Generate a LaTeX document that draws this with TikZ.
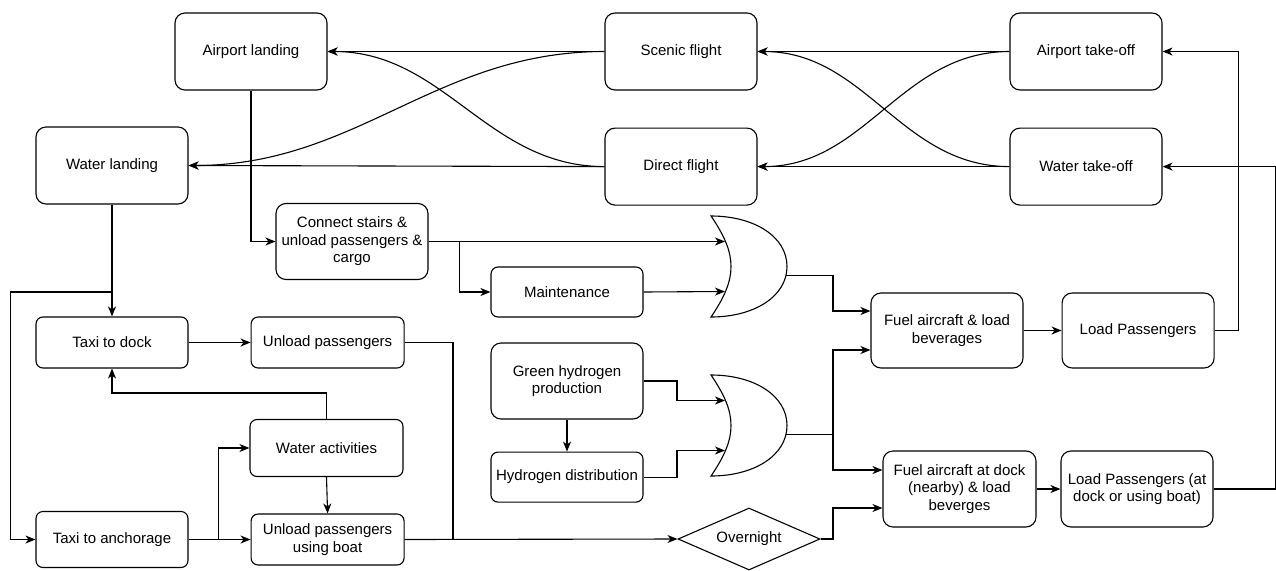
\documentclass[tikz,border=0pt]{standalone}
\usepackage{fontspec}
\setmainfont{Liberation Sans}
\usetikzlibrary{arrows.meta,positioning,shapes.geometric}

\begin{document}
\begin{tikzpicture}[x=1pt,y=-1pt,line width=1.1pt,
  box/.style={draw,rounded corners=10pt,fill=white,minimum width=152pt,
    minimum height=77pt,align=center,inner sep=2pt,
    font=\fontsize{15}{17.6}\selectfont},
  sbox/.style={box,rounded corners=7pt,minimum height=51pt},
  dec/.style={draw,diamond,fill=white,minimum width=142pt,minimum height=62pt,
    shape aspect=2.3,inner sep=0pt,font=\fontsize{15}{17.6}\selectfont},
  arr/.style={-{Stealth[length=10pt,width=8pt,inset=3pt]}},
  orgate/.pic={
    \draw[fill=white] (-38,-50.5) .. controls (5,-50.5) and (38,-30) .. (38,0)
      .. controls (38,30) and (5,50.5) .. (-38,50.5)
      .. controls (-24,30) and (-18,15) .. (-18,0)
      .. controls (-18,-15) and (-24,-30) .. cycle;
    \coordinate (-in1) at (-24,-25);
    \coordinate (-in2) at (-24,25);
    \coordinate (-out) at (37,9);}]
\useasboundingbox (0,0) rectangle (1276,570);
\node[box] (al) at (251,51.5) {Airport landing};
\node[box] (sf) at (681,51.5) {Scenic flight};
\node[box] (atk) at (1086,51.5) {Airport take-off};
\node[box,below=37pt of sf] (df) {Direct flight};
\node[box,below=37pt of atk] (wtk) {Water take-off};
\node[box] (wl) at (112,165.5) {Water landing};
\node[box,minimum height=76pt] (cs) at (352,241.5) {Connect stairs \&\\unload passengers \&\\cargo};
\node[sbox,minimum height=50pt] (mt) at (567,292) {Maintenance};
\node[sbox] (td) at (112,342.5) {Taxi to dock};
\node[sbox,minimum width=153pt,right=62pt of td] (up) {Unload passengers};
\node[box,minimum height=76pt] (gh) at (567,381) {Green hydrogen\\production};
\node[sbox,minimum height=50pt,below=32pt of gh] (hd) {Hydrogen distribution};
\node[sbox,minimum width=153pt,minimum height=57pt] (wa) at (326.5,448) {Water activities};
\node[sbox,minimum height=56pt] (ta) at (112,539.5) {Taxi to anchorage};
\node[sbox,minimum width=153pt,right=62pt of ta] (ub) {Unload passengers\\using boat};
\node[dec] (ovn) at (749,539) {Overnight};
\node[box,minimum height=75pt] (fa) at (947,330.5) {Fuel aircraft \& load\\beverages};
\node[box,minimum height=75pt,right=38pt of fa] (lp) {Load Passengers};
\node[box,minimum width=153pt,minimum height=76pt] (fd) at (959.5,489) {Fuel aircraft at dock\\(nearby) \& load\\beverges};
\node[box,minimum height=76pt] (ld) at (1137,489) {Load Passengers (at\\dock or using boat)};
\pic (g1) at (749,266.5) {orgate};
\pic (g2) at (749,425.5) {orgate};
\coordinate (wj) at (112,292);
\coordinate (mj) at (453,539.5);
\coordinate (bus) at (833,0);
\coordinate (fa1) at ([yshift=19.5pt]fa.west);
\coordinate (fa2) at ([yshift=-19.5pt]fa.west);
\coordinate (fd1) at ([yshift=19pt]fd.west);
\coordinate (fd2) at ([yshift=-19pt]fd.west);
\draw[arr] (sf.west) -- (al.east);
\draw[arr] (sf.west) to[out=180,in=0] (wl.east);
\draw[arr] (df.west) -- (wl.east);
\draw[arr] (df.west) to[out=180,in=0] (al.east);
\draw[arr] (atk.west) -- (sf.east);
\draw[arr] (atk.west) to[out=180,in=0] (df.east);
\draw[arr] (wtk.west) -- (df.east);
\draw[arr] (wtk.west) to[out=180,in=0] (sf.east);
\draw[arr] (al.south) |- (cs.west);
\draw[arr] (wl.south) -- (td.north);
\draw[arr] (wj) -| ([xshift=-25pt]ta.west) -- (ta.west);
\draw[arr] (td.east) -- (up.east -| up.west);
\draw (up.east) -| (mj);
\draw[arr] (wa.north) -- ++(0,-26) -| (td.south);
\draw[arr] (ta.east) -- (ub.west);
\draw[arr] (ta.east) ++(30,0) |- (wa.west);
\draw[arr] (wa.south) -- (ub.north);
\draw[arr] (ub.east) -- (ovn.west);
\draw[arr] (cs.east) -- (cs.east -| g1-in1);
\draw[arr] (cs.east) ++(31,0) |- (mt.west);
\draw[arr] (mt.east) -- (g1-in2);
\draw[arr] (gh.east) -| ([xshift=-48pt]g2-in1) -- (g2-in1);
\draw[arr] (hd.east) -| ([xshift=-48pt]g2-in2) -- (g2-in2);
\draw[arr] (gh.south) -- (hd.north);
\draw[arr] (g1-out) -| (bus |- fa1) -- (fa1);
\draw[arr] (g2-out) -| (bus |- fa2) -- (fa2);
\draw[arr] (g2-out) -| (bus |- fd1) -- (fd1);
\draw[arr] (ovn.east) -| (bus |- fd2) -- (fd2);
\draw[arr] (fa.east) -- (lp.west);
\draw[arr] (fd.east) -- (ld.west);
\draw[arr] (lp.east) -| ([xshift=76pt]atk.east) -- (atk.east);
\draw[arr] (ld.east) -| ([xshift=112.5pt]wtk.east) -- (wtk.east);
\end{tikzpicture}
\end{document}
